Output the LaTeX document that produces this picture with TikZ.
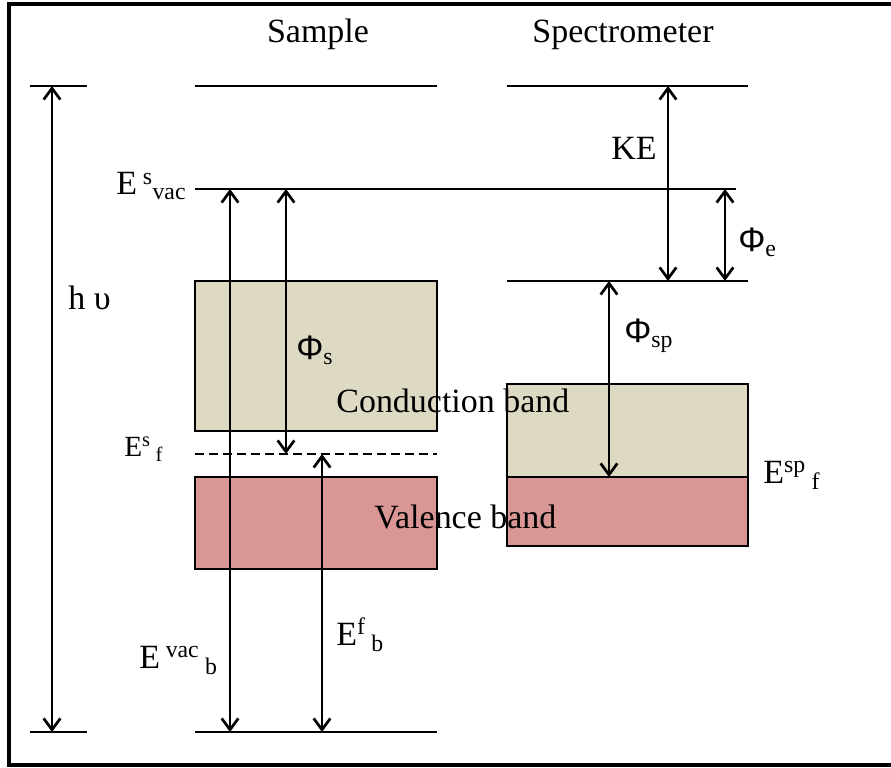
\documentclass[tikz,border=0pt]{standalone}
\usepackage{fontspec}
\setmainfont{Liberation Serif}
\newfontfamily\phifont{Liberation Sans}
\usetikzlibrary{arrows.meta}
\definecolor{condtan}{RGB}{221,217,195}
\definecolor{valpink}{RGB}{217,150,148}

\begin{document}
\begin{tikzpicture}[x=0.03cm, y=-0.03cm, line width=2.3pt,
  >={Straight Barb[length=3.4mm,width=5mm]},
  lbl/.style={inner sep=0pt, anchor=base west, font=\fontsize{29}{34}\selectfont},
  lblsmall/.style={lbl, font=\fontsize{25}{30}\selectfont},
  bandbox/.style={draw=black, line width=2.3pt},
  gap/.style={<->, line width=2.3pt}]

\useasboundingbox (0,0) rectangle (891,768);

% 1. FRAME (open to the right)
\draw[line width=3.6pt] (897,4) -- (9,4) -- (9,765) -- (897,765);

% 2. TITLES
\node[lbl, anchor=base] (sample) at (318,43) {Sample};
\node[lbl, anchor=base] (spectro) at (623,43) {Spectrometer};

% 3. ENERGY LEVELS
% photon energy bracket
\draw (30,86) -- (87,86);
\draw (30,732) -- (87,732);
% sample
\draw (195,86) -- (437,86);
\draw (195,189) -- (736,189);
\draw (195,732) -- (437,732);
% spectrometer
\draw (507,86) -- (748,86);
\draw (507,281) -- (748,281);

% 4. BANDS
% Sample
\filldraw[bandbox, fill=condtan] (195,281) rectangle (437,431);
\filldraw[bandbox, fill=valpink] (195,477) rectangle (437,569);
\draw[dash pattern=on 0.27cm off 0.15cm] (195,454) -- (437,454);
% Spectrometer
\filldraw[bandbox, fill=condtan] (507,384) rectangle (748,477);
\filldraw[bandbox, fill=valpink] (507,477) rectangle (748,546);

% 5. ARROWS
\coordinate (hvtop) at (52,86);
\coordinate (hvbot) at (52,732);
\coordinate (evbtop) at (230,189);
\coordinate (evbbot) at (230,732);
\coordinate (phistop) at (286,189);
\coordinate (phisbot) at (286,454);
\coordinate (efbtop) at (322,454);
\coordinate (efbbot) at (322,732);
\coordinate (ketop) at (668,86);
\coordinate (kebot) at (668,281);
\coordinate (phietop) at (725,189);
\coordinate (phiebot) at (725,281);
\coordinate (phisptop) at (609,281);
\coordinate (phispbot) at (609,477);

\draw[gap] (hvtop) -- (hvbot);
\draw[gap] (evbtop) -- (evbbot);
\draw[gap] (phistop) -- (phisbot);
\draw[gap] (efbtop) -- (efbbot);
\draw[gap] (ketop) -- (kebot);
\draw[gap] (phietop) -- (phiebot);
\draw[gap] (phisptop) -- (phispbot);

% 6. LABELS
\node[lbl] (hnu) at (67,310) {h υ};
\node[lbl] (evac) at (115,195) {E\,\textsuperscript{s}\textsubscript{vac}};
\node[lblsmall] (efs) at (123,457) {E\textsuperscript{s}\,\textsubscript{f}};
\node[lbl] (evacb) at (138,668) {E\,\textsuperscript{vac}\,\textsubscript{b}};
\node[lbl] (efb) at (335,645) {E\textsuperscript{f}\,\textsubscript{b}};
\node[lbl] (esp) at (762,483) {E\textsuperscript{sp}\,\textsubscript{f}};
\node[lbl, anchor=base] (ke) at (634,160) {KE};
\node[lbl] (phis) at (295,360) {{\phifont Φ}\textsubscript{s}};
\node[lbl] (phie) at (737,252) {{\phifont Φ}\textsubscript{e}};
\node[lbl] (phisp) at (623,343) {{\phifont Φ}\textsubscript{sp}};
\node[lbl] (cb) at (335,413) {Conduction band};
\node[lbl] (vb) at (373,528) {Valence band};

\end{tikzpicture}
\end{document}
